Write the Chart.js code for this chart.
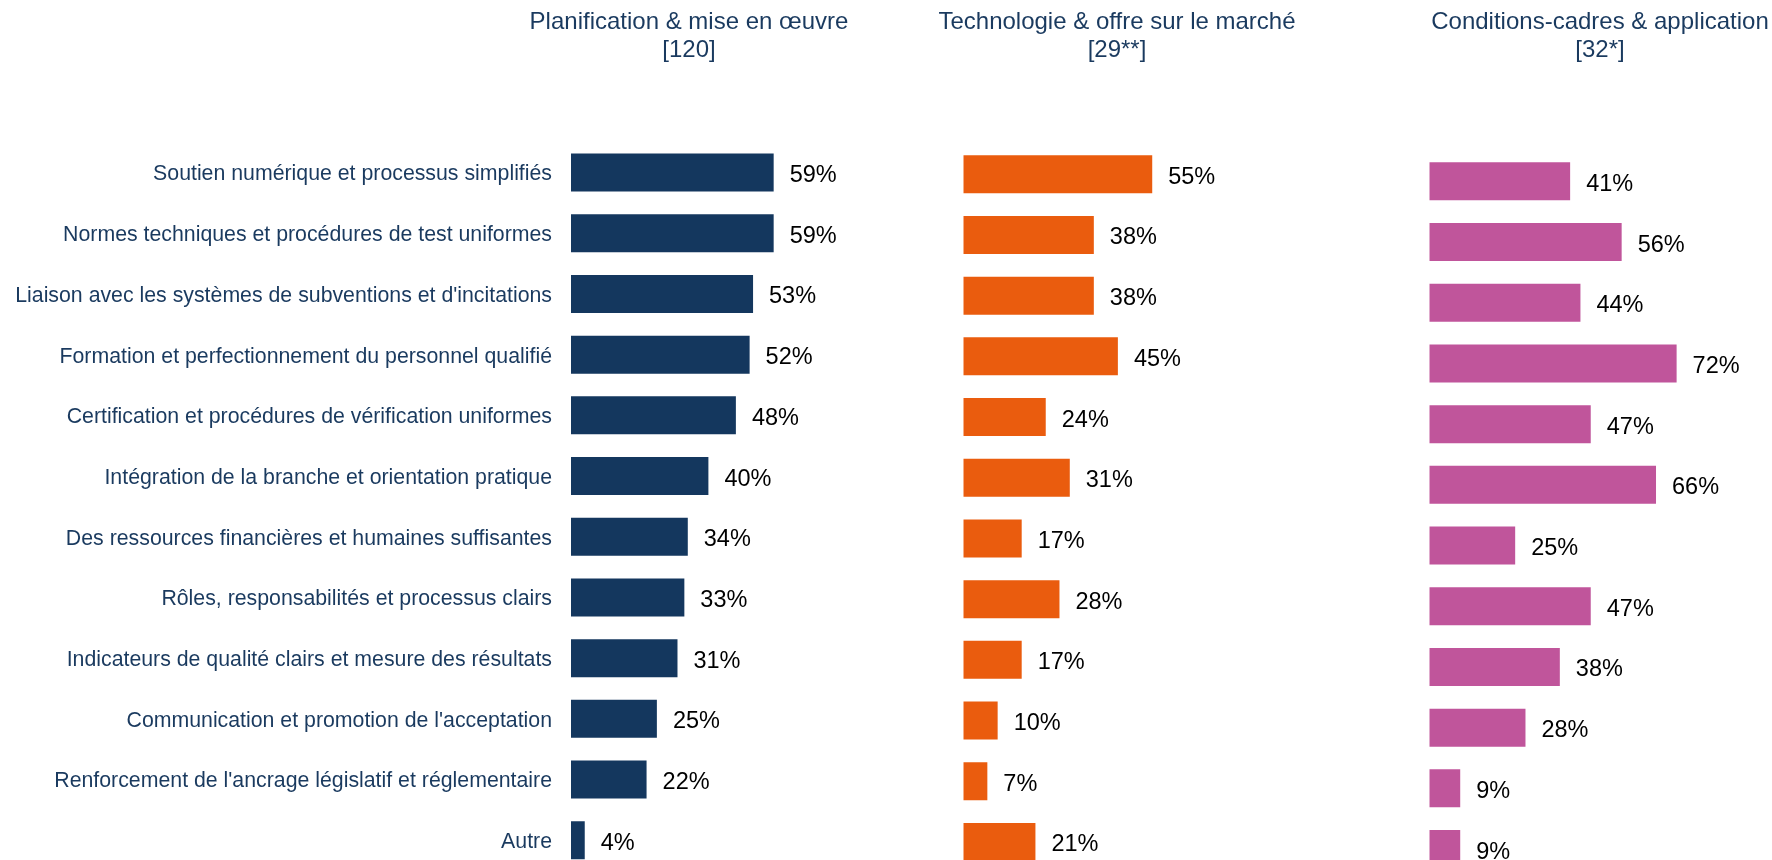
<!DOCTYPE html>
<html lang="fr">
<head>
<meta charset="utf-8">
<title>Facteurs de succès</title>
<script src="https://cdn.jsdelivr.net/npm/chart.js@4/dist/chart.umd.min.js"></script>
<style>
  html, body { margin: 0; padding: 0; background: #fff; }
  body { width: 1772px; height: 860px; overflow: hidden; position: relative; }
  canvas { position: absolute; left: 0; top: 0; }
  .panel-title {
    position: absolute;
    top: 7px;
    width: 500px;
    text-align: center;
    font-family: "Liberation Sans", Arial, sans-serif;
    font-size: 24px;
    line-height: 28px;
    color: #1a3a5f;
    white-space: nowrap;
  }
</style>
</head>
<body>
<canvas id="chart-planification" width="1772" height="940"></canvas>
<canvas id="chart-technologie" width="1772" height="940"></canvas>
<canvas id="chart-conditions" width="1772" height="940"></canvas>

<script>
const categories = [
  "Soutien numérique et processus simplifiés",
  "Normes techniques et procédures de test uniformes",
  "Liaison avec les systèmes de subventions et d'incitations",
  "Formation et perfectionnement du personnel qualifié",
  "Certification et procédures de vérification uniformes",
  "Intégration de la branche et orientation pratique",
  "Des ressources financières et humaines suffisantes",
  "Rôles, responsabilités et processus clairs",
  "Indicateurs de qualité clairs et mesure des résultats",
  "Communication et promotion de l'acceptation",
  "Renforcement de l'ancrage législatif et réglementaire",
  "Autre"
];

const panelTitles = [
  "Planification & mise en œuvre",
  "Technologie & offre sur le marché",
  "Conditions-cadres & application"
];
const panelCounts = ["[120]", "[29**]", "[32*]"];

const planificationValues = [59, 59, 53, 52, 48, 40, 34, 33, 31, 25, 22, 4];
const technologieValues = [55, 38, 38, 45, 24, 31, 17, 28, 17, 10, 7, 21];
const conditionsValues = [41, 56, 44, 72, 47, 66, 25, 47, 38, 28, 9, 9];

const FONT = "'Liberation Sans', Arial, sans-serif";
const CANVAS_W = 1772;
const CANVAS_H = 940;
const PLOT_W = 274.8;   // 80 % of the x scale
const PLOT_H = 728.4;   // 12 rows

// values written right of each bar
const valueLabels = {
  id: "valueLabels",
  afterDatasetsDraw(chart) {
    const ctx = chart.ctx;
    ctx.save();
    ctx.font = "23.5px " + FONT;
    ctx.fillStyle = "#000";
    ctx.textAlign = "left";
    ctx.textBaseline = "middle";
    chart.getDatasetMeta(0).data.forEach((bar, i) => {
      const v = chart.data.datasets[0].data[i];
      ctx.fillText(v + "%", bar.x + 16, bar.y + 3);
    });
    ctx.restore();
  }
};

function makeChart(canvasId, values, color, plotLeft, plotTop, showLabels) {
  const padding = {
    left: showLabels ? 0 : plotLeft,
    right: CANVAS_W - plotLeft - PLOT_W,
    top: plotTop,
    bottom: CANVAS_H - plotTop - PLOT_H
  };
  return new Chart(document.getElementById(canvasId), {
    type: "bar",
    data: {
      labels: categories,
      datasets: [{
        data: values,
        backgroundColor: color,
        borderWidth: 0,
        barPercentage: 0.626,
        categoryPercentage: 1
      }]
    },
    options: {
      indexAxis: "y",
      responsive: false,
      animation: false,
      devicePixelRatio: 1,
      layout: { padding },
      plugins: {
        legend: { display: false },
        tooltip: { enabled: false }
      },
      scales: {
        x: { display: false, min: 0, max: 80 },
        y: {
          display: showLabels,
          grid: { display: false, drawTicks: false },
          border: { display: false },
          ticks: {
            padding: 19,
            labelOffset: 2,
            color: "#1a3a5f",
            font: { family: FONT, size: 21.3 }
          },
          afterFit(scale) {
            if (showLabels) scale.width = plotLeft;
          }
        }
      }
    },
    plugins: [valueLabels]
  });
}

makeChart("chart-planification", planificationValues, "#14375e", 571, 142.2, true);
makeChart("chart-technologie", technologieValues, "#ea5c0e", 963.3, 143.9, false);
makeChart("chart-conditions", conditionsValues, "#c0559b", 1429.3, 151, false);

// panel headings
const titleCenters = [689, 1117, 1600];
panelTitles.forEach((t, i) => {
  const div = document.createElement("div");
  div.className = "panel-title";
  div.style.left = (titleCenters[i] - 250) + "px";
  div.innerHTML = t + "<br>" + panelCounts[i];
  document.body.appendChild(div);
});
</script>
</body>
</html>
